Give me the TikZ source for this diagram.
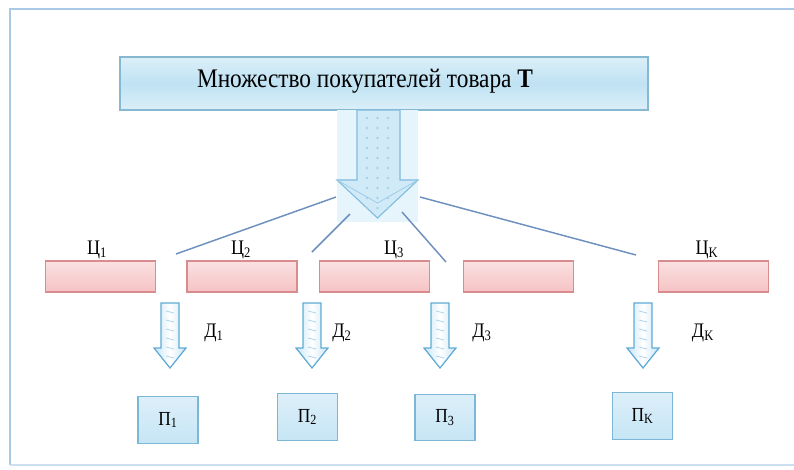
\documentclass[tikz,border=0pt]{standalone}
\usepackage{fontspec}
\setmainfont{Liberation Serif}
\definecolor{framec}{HTML}{A9C9E6}
\definecolor{topfill}{HTML}{BFE2F3}
\definecolor{topedge}{HTML}{86B8D2}
\definecolor{pinkfill}{HTML}{F6C2C4}
\definecolor{pinkedge}{HTML}{D98C8E}
\definecolor{pfill}{HTML}{C6E5F5}
\definecolor{pedge}{HTML}{7DB7D8}
\definecolor{arrfill}{HTML}{C8E6F7}
\definecolor{arredge}{HTML}{5FAAD6}
\definecolor{linec}{HTML}{6E90BE}
\begin{document}
\begin{tikzpicture}[x=0.75pt,y=-0.75pt,
  topbox/.style={draw=topedge, line width=0.8pt, top color=topfill!55, bottom color=topfill!55, middle color=topfill, minimum width=396pt, minimum height=39.75pt, inner sep=0pt},
  pinkbox/.style={draw=pinkedge, line width=1pt, top color=pinkfill!50, bottom color=pinkfill, minimum width=82.5pt, minimum height=23.25pt, inner sep=0pt},
  pbox/.style={draw=pedge, line width=0.8pt, top color=pfill!60, bottom color=pfill, minimum width=45pt, minimum height=35pt, inner sep=0pt, font=\fontsize{13}{15}\selectfont},
  lbl/.style={font=\fontsize{13.5}{15}\selectfont, inner sep=0pt},
  arrowbody/.style={draw=arredge, line width=0.9pt, left color=arrfill, right color=arrfill, middle color=white, line join=miter},
  conn/.style={draw=linec, line width=1.1pt}
]
\useasboundingbox (0,0) rectangle (794,469);
% frame
\draw[framec, line width=1.5pt] (10,465) -- (10,9) -- (794,9);
\draw[framec!60, line width=1.2pt] (10,465) -- (794,465);

% top box
\node[topbox] (top) at (384,83.5) {};
\node[inner sep=0pt, font=\fontsize{17.5}{20}\selectfont] (toptext) at (365,81) {\scalebox{1}[1.15]{Множество покупателей товара \textbf{T}}};

% big arrow with background
\fill[arrfill!45] (337,110) rectangle (418,222);
\path[draw=arredge!80, line width=0.8pt, fill=arrfill!85]
  (357,110) -- (400,110) -- (400,180) -- (418,180) -- (377.5,218) -- (337,180) -- (357,180) -- cycle;
\draw[arredge!60, line width=0.6pt] (337,180) -- (377.5,203) -- (418,180);
\foreach \yy in {118,128,...,208}{
  \foreach \xx in {367,377.5,388}{
    \fill[arredge!55] (\xx,\yy) circle (1.1pt);
  }
}

% pink boxes
\node[pinkbox] (c1) at (100.5,276.5) {};
\node[pinkbox] (c2) at (242,276.5) {};
\node[pinkbox] (c3) at (374.5,276.5) {};
\node[pinkbox] (c4) at (518.5,276.5) {};
\node[pinkbox] (c5) at (713.5,276.5) {};

\node[lbl] (lc1) at (97,250) {\scalebox{1}[1.15]{Ц\textsubscript{1}}};
\node[lbl] (lc2) at (241,250) {\scalebox{1}[1.15]{Ц\textsubscript{2}}};
\node[lbl] (lc3) at (394,250) {\scalebox{1}[1.15]{Ц\textsubscript{3}}};
\node[lbl] (lc5) at (707,250) {\scalebox{1}[1.15]{Ц\textsubscript{K}}};

% connectors
\coordinate (s1) at (336,197);
\coordinate (s2) at (350,214);
\coordinate (s3) at (402,212);
\coordinate (s4) at (420,197);
\coordinate (e1) at (176,254);
\coordinate (e2) at (312,252);
\coordinate (e3) at (446,262);
\coordinate (e4) at (636,255);
\draw[conn] (s1) -- (e1);
\draw[conn] (s2) -- (e2);
\draw[conn] (s3) -- (e3);
\draw[conn] (s4) -- (e4);

% small arrows
\foreach \xx in {170,312,440,643}{
  \path[arrowbody] (\xx-9,303) -- (\xx+9,303) -- (\xx+9,348) -- (\xx+16,348) -- (\xx,368) -- (\xx-16,348) -- (\xx-9,348) -- cycle;
  \foreach \yy in {311,320,...,356}{
    \draw[arredge!50, line width=0.6pt] (\xx-4,\yy) -- (\xx+4,\yy+2);
  }
}

\node[lbl] (d1) at (214,333) {\scalebox{1}[1.15]{Д\textsubscript{1}}};
\node[lbl] (d2) at (342,333) {\scalebox{1}[1.15]{Д\textsubscript{2}}};
\node[lbl] (d3) at (482,333) {\scalebox{1}[1.15]{Д\textsubscript{3}}};
\node[lbl] (d4) at (703,333) {\scalebox{1}[1.15]{Д\textsubscript{K}}};

% P boxes
\node[pbox] (p1) at (168,420) {\scalebox{1}[1.15]{П\textsubscript{1}}};
\node[pbox] (p2) at (307.5,417) {\scalebox{1}[1.15]{П\textsubscript{2}}};
\node[pbox] (p3) at (445,417.5) {\scalebox{1}[1.15]{П\textsubscript{3}}};
\node[pbox] (p4) at (642.5,416) {\scalebox{1}[1.15]{П\textsubscript{K}}};
\end{tikzpicture}
\end{document}
